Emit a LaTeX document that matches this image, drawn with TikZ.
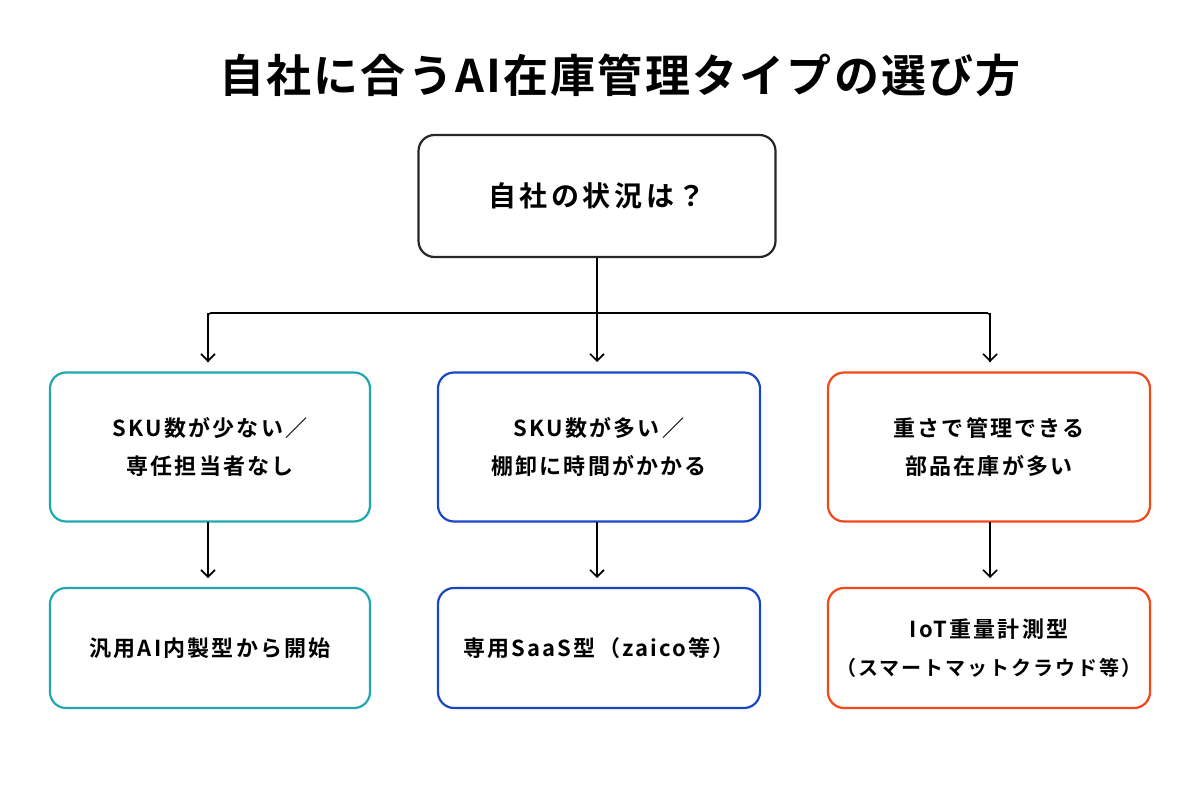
\documentclass[tikz,border=0pt]{standalone}
\usepackage{fontspec}
\newfontfamily\jp{Noto Sans CJK JP}[BoldFont={* Bold}]
\newfontfamily\jpw{Noto Sans CJK JP}[BoldFont={* Bold},LetterSpace=10]
\newfontfamily\jpt{Noto Sans CJK JP}[BoldFont={* Bold},LetterSpace=5]
\newfontfamily\jpc{Noto Sans CJK JP}[BoldFont={* Bold},LetterSpace=13]
\usetikzlibrary{arrows.meta}
\definecolor{teal1}{HTML}{1FA8AE}
\definecolor{blue1}{HTML}{1A48C4}
\definecolor{red1}{HTML}{F2461B}
\begin{document}
\begin{tikzpicture}[x=1pt,y=-1pt,
 box/.style={draw,line width=2.2pt,rounded corners=16pt,align=center,font=\jpw\bfseries\fontsize{22}{38}\selectfont,inner sep=0},
 arr/.style={line width=1.6pt,-{Straight Barb[length=7pt,width=14pt]}}]
\useasboundingbox (0,0) rectangle (1200,800);
\node[font=\jpt\bfseries\fontsize{45}{52}\selectfont] (title) at (620,75) {自社に合うAI在庫管理タイプの選び方};
\node[box,draw=black!85,minimum width=357pt,minimum height=122pt,font=\jpc\bfseries\fontsize{28}{32}\selectfont] (top) at (597,196) {自社の状況は？};
\node[box,draw=teal1,minimum width=320pt,minimum height=149pt] (a) at (210,447) {SKU数が少ない／\\専任担当者なし};
\node[box,draw=blue1,minimum width=322pt,minimum height=149pt] (b) at (599,447) {SKU数が多い／\\棚卸に時間がかかる};
\node[box,draw=red1,minimum width=322pt,minimum height=149pt] (c) at (989,447) {重さで管理できる\\部品在庫が多い};
\node[box,draw=teal1,minimum width=320pt,minimum height=120pt] (a2) at (210,648) {汎用AI内製型から開始};
\node[box,draw=blue1,minimum width=322pt,minimum height=120pt] (b2) at (599,648) {専用SaaS型（zaico等）};
\node[box,draw=red1,minimum width=322pt,minimum height=120pt] (c2) at (989,648) {IoT重量計測型\\{\fontsize{20}{32}\selectfont（スマートマットクラウド等）}};
\coordinate (j) at (597,313);
\draw[line width=1.6pt] (top.south) -- (j);
\draw[line width=1.6pt,rounded corners=3pt] (208,362) -- (208,313) -- (990,313) -- (990,362);
\draw[arr] (208,313) -- (208,362);
\draw[arr] (j) -- (597,362);
\draw[arr] (990,313) -- (990,362);
\draw[arr] (208,522) -- (208,578);
\draw[arr] (597,522) -- (597,578);
\draw[arr] (990,522) -- (990,578);
\end{tikzpicture}
\end{document}
